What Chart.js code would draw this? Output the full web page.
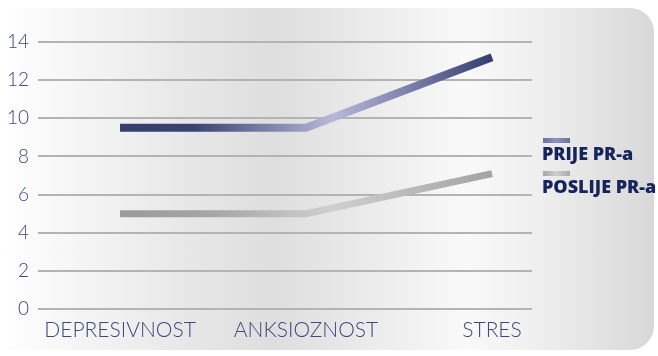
<!DOCTYPE html>
<html>
<head>
<meta charset="utf-8">
<script src="https://cdn.jsdelivr.net/npm/chart.js@4.4.1/dist/chart.umd.min.js"></script>
<style>
  html, body { margin: 0; padding: 0; background: #fff; }
  #wrap { position: relative; width: 658px; height: 356px; overflow: hidden; }
  #panel {
    position: absolute; left: 0; top: 8px; width: 654px; height: 342px;
    border-radius: 0 24px 24px 0;
    background: linear-gradient(to right, #ffffff 0%, #e6e6e6 30%, #dedede 42%, #f0f0f0 62%, #f9f9f9 71%, #efefef 82%, #d8d8d8 100%);
  }
  canvas { position: absolute; left: 0; top: 0; }
</style>
</head>
<body>
<div id="wrap">
  <div id="panel"></div>
  <canvas id="chart" width="658" height="356"></canvas>
</div>
<script>
// data
const categories = ["DEPRESIVNOST", "ANKSIOZNOST", "STRES"];
const seriesNames = ["PRIJE PR-a", "POSLIJE PR-a"];
const prije = [9.5, 9.5, 13.2];
const poslije = [5, 5, 7.1];
const yTicks = [0, 2, 4, 6, 8, 10, 12, 14];

// horizontal gradient along the line, between first and last category
function lineGradient(stops) {
  return (ctx) => {
    const chart = ctx.chart;
    const x = chart.scales.x;
    if (!chart.chartArea || !x) return stops[0][1];
    const x0 = x.getPixelForValue(0);
    const x1 = x.getPixelForValue(categories.length - 1);
    const g = chart.ctx.createLinearGradient(x0, 0, x1, 0);
    stops.forEach(([p, c]) => g.addColorStop(p, c));
    return g;
  };
}

const prijeStops = [[0, "#343d6d"], [0.2, "#3b4374"], [0.57, "#b7b8d8"], [0.75, "#8587b3"], [1, "#343d6d"]];
const poslijeStops = [[0, "#9a9a9a"], [0.25, "#a6a6a6"], [0.57, "#cfcfcf"], [1, "#a3a3a3"]];

// legend: swatch above label, right of the plot
const sideLegend = {
  id: "sideLegend",
  afterDraw(chart) {
    const c = chart.ctx;
    const left = chart.chartArea.right + 11;
    const swatches = [["#6d70a0", "#8f92bf"], ["#a8a8a8", "#cdcdcd"]];
    const tops = [138, 171];
    c.save();
    chart.data.datasets.forEach((ds, i) => {
      const g = c.createLinearGradient(left, 0, left + 27, 0);
      g.addColorStop(0, swatches[i][0]);
      g.addColorStop(0.5, swatches[i][1]);
      g.addColorStop(1, swatches[i][0]);
      c.fillStyle = g;
      c.fillRect(left, tops[i], 27, 5);
      c.fillStyle = "#15245a";
      c.font = "800 18px 'Open Sans', sans-serif";
      c.textBaseline = "middle";
      c.textAlign = "left";
      c.fillText(ds.label, left - 1, tops[i] + 17);
    });
    c.restore();
  }
};

new Chart(document.getElementById("chart"), {
  type: "line",
  data: {
    datasets: [
      {
        label: seriesNames[0],
        data: prije.map((v, i) => ({ x: i, y: v })),
        borderColor: lineGradient(prijeStops),
        borderWidth: 8,
        borderCapStyle: "butt",
        borderJoinStyle: "miter",
        pointRadius: 0,
        tension: 0,
      },
      {
        label: seriesNames[1],
        data: poslije.map((v, i) => ({ x: i, y: v })),
        borderColor: lineGradient(poslijeStops),
        borderWidth: 7,
        borderCapStyle: "butt",
        borderJoinStyle: "miter",
        pointRadius: 0,
        tension: 0,
      },
    ],
  },
  options: {
    responsive: false,
    animation: false,
    layout: { padding: { left: 0, right: 126, top: 42, bottom: 0 } },
    plugins: { legend: { display: false }, tooltip: { enabled: false } },
    scales: {
      x: {
        type: "linear",
        min: -0.441,
        max: 2.215,
        grid: { display: false, drawTicks: false },
        border: { display: false },
        afterBuildTicks: (axis) => { axis.ticks = categories.map((c, i) => ({ value: i })); },
        afterFit: (axis) => { axis.height = 47; },
        ticks: {
          autoSkip: false,
          maxRotation: 0,
          padding: 9,
          color: "#3a4a7c",
          font: { family: "Lato", size: 21, weight: 300 },
          callback: (v) => categories[v],
        },
      },
      y: {
        min: 0,
        max: 14,
        afterBuildTicks: (axis) => { axis.ticks = yTicks.map((v) => ({ value: v })); },
        afterFit: (axis) => { axis.width = 38; },
        grid: { color: "#b3b3b3", lineWidth: 2, drawTicks: false },
        border: { display: false },
        ticks: {
          padding: 9,
          color: "#3a4a7c",
          font: { family: "Lato", size: 19, weight: 300 },
        },
      },
    },
  },
  plugins: [sideLegend],
});
</script>
</body>
</html>
